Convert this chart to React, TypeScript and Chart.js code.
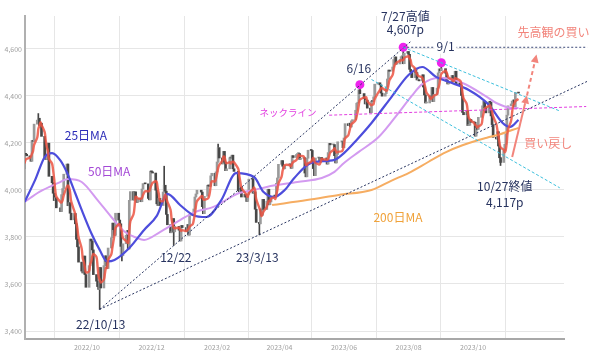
import React, { useEffect, useRef } from "react";
import { Chart, registerables } from "chart.js";
Chart.register(...registerables);

// ---- data (S&P 500 daily closes, by week starting Monday; null = holiday) ----
const closesByWeek: [string, (number | null)[]][] = [
  ["2022-07-25", [3967, 3921, 4024, 4072, 4130]],
  ["2022-08-01", [4119, 4091, 4155, 4152, 4145]],
  ["2022-08-08", [4140, 4122, 4210, 4207, 4280]],
  ["2022-08-15", [4297, 4305, 4274, 4284, 4228]],
  ["2022-08-22", [4138, 4129, 4141, 4199, 4058]],
  ["2022-08-29", [4031, 3986, 3955, 3967, 3924]],
  ["2022-09-05", [null, 3908, 3980, 4006, 4067]],
  ["2022-09-12", [4110, 3933, 3946, 3901, 3873]],
  ["2022-09-19", [3900, 3856, 3790, 3758, 3693]],
  ["2022-09-26", [3655, 3647, 3719, 3640, 3586]],
  ["2022-10-03", [3678, 3791, 3783, 3745, 3640]],
  ["2022-10-10", [3612, 3589, 3577, 3670, 3583]],
  ["2022-10-17", [3678, 3720, 3695, 3666, 3753]],
  ["2022-10-24", [3797, 3859, 3831, 3807, 3901]],
  ["2022-10-31", [3872, 3856, 3760, 3720, 3771]],
  ["2022-11-07", [3807, 3828, 3749, 3956, 3993]],
  ["2022-11-14", [3957, 3992, 3959, 3947, 3965]],
  ["2022-11-21", [3950, 4004, 4027, null, 4026]],
  ["2022-11-28", [3964, 3958, 4080, 4077, 4072]],
  ["2022-12-05", [3999, 3941, 3934, 3964, 3934]],
  ["2022-12-12", [3991, 4020, 3995, 3896, 3852]],
  ["2022-12-19", [3818, 3822, 3878, 3822, 3845]],
  ["2022-12-26", [null, 3829, 3783, 3849, 3840]],
  ["2023-01-02", [null, 3824, 3853, 3808, 3895]],
  ["2023-01-09", [3892, 3919, 3970, 3983, 3999]],
  ["2023-01-16", [null, 3991, 3929, 3899, 3973]],
  ["2023-01-23", [4020, 4017, 4016, 4060, 4071]],
  ["2023-01-30", [4018, 4077, 4119, 4180, 4136]],
  ["2023-02-06", [4111, 4164, 4118, 4082, 4090]],
  ["2023-02-13", [4137, 4136, 4148, 4090, 4079]],
  ["2023-02-20", [null, 3997, 3991, 4012, 3970]],
  ["2023-02-27", [3982, 3970, 3951, 3981, 4046]],
  ["2023-03-06", [4048, 3986, 3992, 3918, 3862]],
  ["2023-03-13", [3856, 3919, 3892, 3960, 3917]],
  ["2023-03-20", [3952, 4003, 3937, 3949, 3971]],
  ["2023-03-27", [3978, 3971, 4028, 4051, 4109]],
  ["2023-04-03", [4125, 4101, 4090, 4105, null]],
  ["2023-04-10", [4109, 4109, 4092, 4146, 4138]],
  ["2023-04-17", [4151, 4155, 4155, 4130, 4134]],
  ["2023-04-24", [4137, 4072, 4056, 4135, 4169]],
  ["2023-05-01", [4168, 4120, 4091, 4061, 4136]],
  ["2023-05-08", [4138, 4119, 4138, 4131, 4124]],
  ["2023-05-15", [4136, 4110, 4159, 4198, 4192]],
  ["2023-05-22", [4193, 4146, 4115, 4151, 4205]],
  ["2023-05-29", [null, 4206, 4180, 4221, 4282]],
  ["2023-06-05", [4274, 4284, 4268, 4294, 4299]],
  ["2023-06-12", [4339, 4369, 4373, 4426, 4410]],
  ["2023-06-19", [null, 4389, 4366, 4382, 4348]],
  ["2023-06-26", [4329, 4378, 4377, 4396, 4450]],
  ["2023-07-03", [4456, null, 4447, 4412, 4399]],
  ["2023-07-10", [4410, 4439, 4472, 4510, 4505]],
  ["2023-07-17", [4523, 4555, 4566, 4535, 4536]],
  ["2023-07-24", [4555, 4567, 4567, 4537, 4582]],
  ["2023-07-31", [4589, 4577, 4513, 4502, 4478]],
  ["2023-08-07", [4518, 4499, 4468, 4469, 4464]],
  ["2023-08-14", [4490, 4438, 4404, 4370, 4370]],
  ["2023-08-21", [4400, 4388, 4436, 4376, 4406]],
  ["2023-08-28", [4433, 4498, 4515, 4508, 4516]],
  ["2023-09-04", [null, 4497, 4465, 4451, 4457]],
  ["2023-09-11", [4487, 4462, 4467, 4505, 4450]],
  ["2023-09-18", [4454, 4444, 4402, 4330, 4320]],
  ["2023-09-25", [4337, 4274, 4275, 4300, 4288]],
  ["2023-10-02", [4288, 4229, 4264, 4258, 4309]],
  ["2023-10-09", [4336, 4358, 4377, 4350, 4328]],
  ["2023-10-16", [4374, 4373, 4315, 4278, 4224]],
  ["2023-10-23", [4217, 4248, 4187, 4137, 4117]],
  ["2023-10-30", [4167, 4194, 4238, 4318, 4358]],
  ["2023-11-06", [4366, 4378, 4383, 4347, 4415]],
  ["2023-11-13", [4412]],
];

// notable intraday extremes (wicks)
const wickExtremes: [string, number][] = [
  ["2022-08-16", 4325], ["2022-09-13", 4060], ["2022-10-13", 3492], ["2022-11-03", 3698],
  ["2022-12-13", 4101], ["2022-12-22", 3764], ["2023-02-02", 4195], ["2023-03-13", 3809],
  ["2023-06-16", 4448], ["2023-07-27", 4607], ["2023-09-01", 4541], ["2023-10-27", 4104],
];

const ma25: [string, number][] = [
  ["2022-08-03", 3949], ["2022-08-13", 4043], ["2022-08-22", 4140], ["2022-08-29", 4157],
  ["2022-09-06", 4125], ["2022-09-12", 4075], ["2022-09-20", 3985], ["2022-09-26", 3915],
  ["2022-10-05", 3817], ["2022-10-13", 3745], ["2022-10-20", 3696], ["2022-10-27", 3702],
  ["2022-11-10", 3753], ["2022-11-24", 3830], ["2022-12-06", 3890], ["2022-12-16", 3983],
  ["2022-12-28", 3936], ["2023-01-09", 3894], ["2023-01-22", 3885], ["2023-02-05", 3957],
  ["2023-02-19", 4072], ["2023-03-08", 4055], ["2023-03-17", 3991], ["2023-03-27", 3970],
  ["2023-04-06", 4000], ["2023-04-15", 4051], ["2023-05-01", 4115], ["2023-05-23", 4128],
  ["2023-06-01", 4157], ["2023-06-13", 4213], ["2023-06-27", 4285], ["2023-07-16", 4396],
  ["2023-08-01", 4489], ["2023-08-14", 4523], ["2023-08-27", 4481], ["2023-09-08", 4460],
  ["2023-09-27", 4425], ["2023-10-16", 4362], ["2023-10-29", 4285], ["2023-11-05", 4268],
  ["2023-11-13", 4298],
];

const ma50: [string, number][] = [
  ["2022-08-03", 3949], ["2022-08-17", 3992], ["2022-09-04", 4030], ["2022-09-13", 4047],
  ["2022-09-26", 4034], ["2022-10-11", 3957], ["2022-10-24", 3885], ["2022-11-06", 3821],
  ["2022-11-17", 3796], ["2022-11-24", 3787], ["2022-12-09", 3821], ["2022-12-28", 3872],
  ["2023-01-11", 3906], ["2023-01-28", 3927], ["2023-02-22", 3987], ["2023-03-08", 4000],
  ["2023-03-20", 4013], ["2023-04-18", 4034], ["2023-05-11", 4051], ["2023-05-23", 4077],
  ["2023-06-01", 4115], ["2023-06-15", 4162], ["2023-07-04", 4226], ["2023-07-23", 4330],
  ["2023-08-04", 4400], ["2023-08-14", 4450], ["2023-08-30", 4477], ["2023-09-21", 4455],
  ["2023-10-14", 4396], ["2023-10-23", 4370], ["2023-11-07", 4349], ["2023-11-13", 4349],
];

const ma200: [string, number][] = [
  ["2023-03-25", 3936], ["2023-04-27", 3957], ["2023-05-27", 3979], ["2023-06-27", 4000],
  ["2023-07-16", 4040], ["2023-08-01", 4072], ["2023-08-20", 4120], ["2023-09-05", 4160],
  ["2023-09-21", 4190], ["2023-10-14", 4222], ["2023-10-26", 4236], ["2023-11-07", 4255],
  ["2023-11-13", 4264],
];

const peakDots: [string, number][] = [["2023-06-16", 4448], ["2023-07-27", 4607], ["2023-09-01", 4541]];

// trend lines (data coordinates)
const supportFromOct13: [string, number][] = [["2022-10-13", 3492], ["2023-08-04", 4635]];
const supportViaMar13: [string, number][] = [["2022-10-13", 3492], ["2024-01-17", 4462]];
const highLine: [string, number][] = [["2023-07-27", 4607], ["2024-01-17", 4607]];
const channelUpper: [string, number][] = [["2023-07-27", 4607], ["2023-12-22", 4336]];
const channelLower: [string, number][] = [["2023-06-27", 4470], ["2023-12-22", 4009]];
const neckline: [string, number][] = [["2023-05-18", 4318], ["2024-01-16", 4355]];
const reboundArrow: [string, number][] = [["2023-11-07", 4140], ["2023-11-21", 4402]];
const breakoutArrow: [string, number][] = [["2023-11-21", 4402], ["2023-11-30", 4576]];

const navyLabels: [string, string, number][] = [
  ["6/16", "2023-06-15", 4519], ["7/27高値", "2023-07-29", 4740], ["4,607p", "2023-07-29", 4681],
  ["9/1", "2023-09-05", 4609], ["10/27終値", "2023-10-31", 4013], ["4,117p", "2023-10-31", 3949],
  ["12/22", "2022-12-24", 3711], ["23/3/13", "2023-03-11", 3715], ["22/10/13", "2022-10-14", 3430],
];
const label25 = ["25日MA", "2022-09-30", 4234] as const;
const label50 = ["50日MA", "2022-10-22", 4077] as const;
const label200 = ["200日MA", "2023-07-22", 3885] as const;
const labelNeck = ["ネックライン", "2023-04-09", 4328] as const;
const salmonLabels: [string, string, number][] = [
  ["先高観の買い", "2023-12-16", 4668], ["買い戻し", "2023-12-11", 4200],
];

const yTicks = [3400, 3600, 3800, 4000, 4200, 4400, 4600];
const xTickMonths = ["2022/10", "2022/12", "2023/02", "2023/04", "2023/06", "2023/08", "2023/10"];

// ---- helpers ----
const DAY0 = Date.UTC(2022, 9, 1);
const dayOf = (s: string) => {
  const p = s.split(/[-/]/).map(Number);
  return (Date.UTC(p[0], p[1] - 1, p[2] || 1) - DAY0) / 864e5;
};
const pts = (a: readonly (readonly [string, number])[]) => a.map(([d, v]) => ({ x: dayOf(d), y: v }));

const FONT = '"Noto Sans CJK JP", "Noto Sans", sans-serif';

export default function App() {
  const ref = useRef<HTMLCanvasElement>(null);
  useEffect(() => {
    const days: { x: number; c: number }[] = [];
    for (const [mon, arr] of closesByWeek) {
      const base = dayOf(mon);
      arr.forEach((c, i) => { if (c != null) days.push({ x: base + i, c }); });
    }
    const bodies: any[] = [];
    const bodyColors: string[] = [];
    const wicks: any[] = [];
    const ext = new Map(wickExtremes.map(([d, v]) => [dayOf(d), v]));
    for (let i = 1; i < days.length; i++) {
      const o = days[i - 1].c, c = days[i].c;
      bodies.push({ x: days[i].x, y: [Math.min(o, c), Math.max(o, c)] });
      bodyColors.push(c >= o ? "#9a9a9a" : "#474747");
      const e = ext.get(days[i].x);
      if (e != null) wicks.push({ x: days[i].x, y: [Math.min(o, c, e), Math.max(o, c, e)] });
    }
    const ma5: { x: number; y: number }[] = [];
    for (let i = 4; i < days.length; i++) {
      let s = 0;
      for (let k = i - 4; k <= i; k++) s += days[k].c;
      ma5.push({ x: days[i].x, y: s / 5 });
    }

    const annot = {
      id: "annot",
      afterDatasetsDraw(chart: any) {
        const { ctx } = chart;
        const xs = chart.scales.x, ys = chart.scales.y;
        const P = (d: string, v: number) => [xs.getPixelForValue(dayOf(d)), ys.getPixelForValue(v)];
        ctx.save();
        const seg = (a: [string, number][], color: string, dash: number[], w = 1) => {
          const [x1, y1] = P(a[0][0], a[0][1]);
          const [x2, y2] = P(a[1][0], a[1][1]);
          ctx.beginPath();
          ctx.setLineDash(dash);
          ctx.strokeStyle = color;
          ctx.lineWidth = w;
          ctx.moveTo(x1, y1);
          ctx.lineTo(x2, y2);
          ctx.stroke();
          ctx.setLineDash([]);
        };
        const arrow = (a: [string, number][], color: string, dash: number[]) => {
          const [x1, y1] = P(a[0][0], a[0][1]);
          const [x2, y2] = P(a[1][0], a[1][1]);
          const ang = Math.atan2(y2 - y1, x2 - x1);
          const hl = 8, hw = 4;
          const bx = x2 - hl * Math.cos(ang), by = y2 - hl * Math.sin(ang);
          ctx.beginPath();
          ctx.setLineDash(dash);
          ctx.strokeStyle = color;
          ctx.lineWidth = 2;
          ctx.moveTo(x1, y1);
          ctx.lineTo(bx, by);
          ctx.stroke();
          ctx.setLineDash([]);
          ctx.beginPath();
          ctx.fillStyle = color;
          ctx.moveTo(x2, y2);
          ctx.lineTo(bx + hw * Math.sin(ang), by - hw * Math.cos(ang));
          ctx.lineTo(bx - hw * Math.sin(ang), by + hw * Math.cos(ang));
          ctx.closePath();
          ctx.fill();
        };
        const navy = "#27335f";
        seg(supportFromOct13, navy, [2, 2]);
        seg(supportViaMar13, navy, [2, 2]);
        seg(highLine, "#3d4a78", [2, 2]);
        seg(channelUpper, "#3cbfdc", [3, 2]);
        seg(channelLower, "#3cbfdc", [3, 2]);
        seg(neckline, "#e23ee0", [3, 2]);
        arrow(reboundArrow, "#f2857c", []);
        arrow(breakoutArrow, "#f2857c", [4, 3]);

        ctx.textAlign = "center";
        ctx.textBaseline = "middle";
        const text = (t: string, d: string, v: number, color: string, size: number, bg = false) => {
          const [x, y] = P(d, v);
          ctx.font = `${size}px ${FONT}`;
          if (bg) {
            const w = ctx.measureText(t).width;
            ctx.fillStyle = "#ffffff";
            ctx.fillRect(x - w / 2 - 2, y - size / 2 - 1, w + 4, size + 2);
          }
          ctx.fillStyle = color;
          ctx.fillText(t, x, y);
        };
        navyLabels.forEach(([t, d, v]) => text(t, d, v, navy, 12, t === "9/1"));
        text(label25[0], label25[1], label25[2], "#2c2cb8", 12);
        text(label50[0], label50[1], label50[2], "#a449d6", 12);
        text(label200[0], label200[1], label200[2], "#f0a23a", 12);
        text(labelNeck[0], labelNeck[1], labelNeck[2], "#e23ee0", 9.5);
        salmonLabels.forEach(([t, d, v]) => text(t, d, v, "#f2857c", 12));
        ctx.restore();
      },
    };

    const chart = new Chart(ref.current!, {
      type: "bar",
      data: {
        datasets: [
          { type: "bar", data: wicks, backgroundColor: "#444", barThickness: 1, grouped: false, order: 7 } as any,
          { type: "bar", data: bodies, backgroundColor: bodyColors, barThickness: 2, minBarLength: 1, grouped: false, order: 6 } as any,
          { type: "line", data: pts(ma200), borderColor: "#f6ad62", borderWidth: 2, pointRadius: 0, cubicInterpolationMode: "monotone", order: 5 },
          { type: "line", data: pts(ma50), borderColor: "#d39af0", borderWidth: 2, pointRadius: 0, cubicInterpolationMode: "monotone", order: 4 },
          { type: "line", data: pts(ma25), borderColor: "#4d4ddc", borderWidth: 2.2, pointRadius: 0, cubicInterpolationMode: "monotone", order: 3 },
          { type: "line", data: ma5, borderColor: "rgba(236,84,66,0.85)", borderWidth: 2.4, pointRadius: 0, tension: 0.3, order: 2 },
          { type: "line", data: pts(peakDots), showLine: false, pointRadius: 4.5, pointBackgroundColor: "#ee22ee", pointBorderWidth: 0, order: 1 },
        ],
      },
      options: {
        animation: false,
        responsive: true,
        maintainAspectRatio: false,
        layout: { padding: { left: 0, top: 16, right: 36, bottom: 0 } },
        plugins: { legend: { display: false }, tooltip: { enabled: false } },
        scales: {
          x: {
            type: "linear",
            min: -58.6,
            max: 451,
            offset: false,
            grid: { color: "#e6e6e6", drawTicks: false },
            border: { display: true, color: "#a8a8a8", width: 2 },
            afterBuildTicks: (s: any) => { s.ticks = xTickMonths.map((m) => ({ value: dayOf(m) })); },
            afterFit: (s: any) => { s.height = 16; },
            ticks: {
              padding: 4,
              maxRotation: 0,
              autoSkip: false,
              color: "#a0a0a0",
              font: { size: 7, family: FONT },
              callback: (v: any) => xTickMonths.find((m) => dayOf(m) === v) ?? "",
            },
          },
          y: {
            min: 3366,
            max: 4740,
            grid: { color: "#e6e6e6", drawTicks: false },
            border: { display: true, color: "#b0b0b0", width: 2 },
            afterBuildTicks: (s: any) => { s.ticks = yTicks.map((v) => ({ value: v })); },
            afterFit: (s: any) => { s.width = 25; },
            ticks: {
              padding: 3,
              color: "#a0a0a0",
              font: { size: 7, family: FONT },
              callback: (v: any) => Number(v).toLocaleString("en-US"),
            },
          },
        },
      },
      plugins: [annot],
    } as any);
    return () => chart.destroy();
  }, []);
  return (
    <div style={{ position: "fixed", left: 0, top: 0, width: 600, height: 355, background: "#fff" }}>
      <canvas ref={ref} />
    </div>
  );
}
